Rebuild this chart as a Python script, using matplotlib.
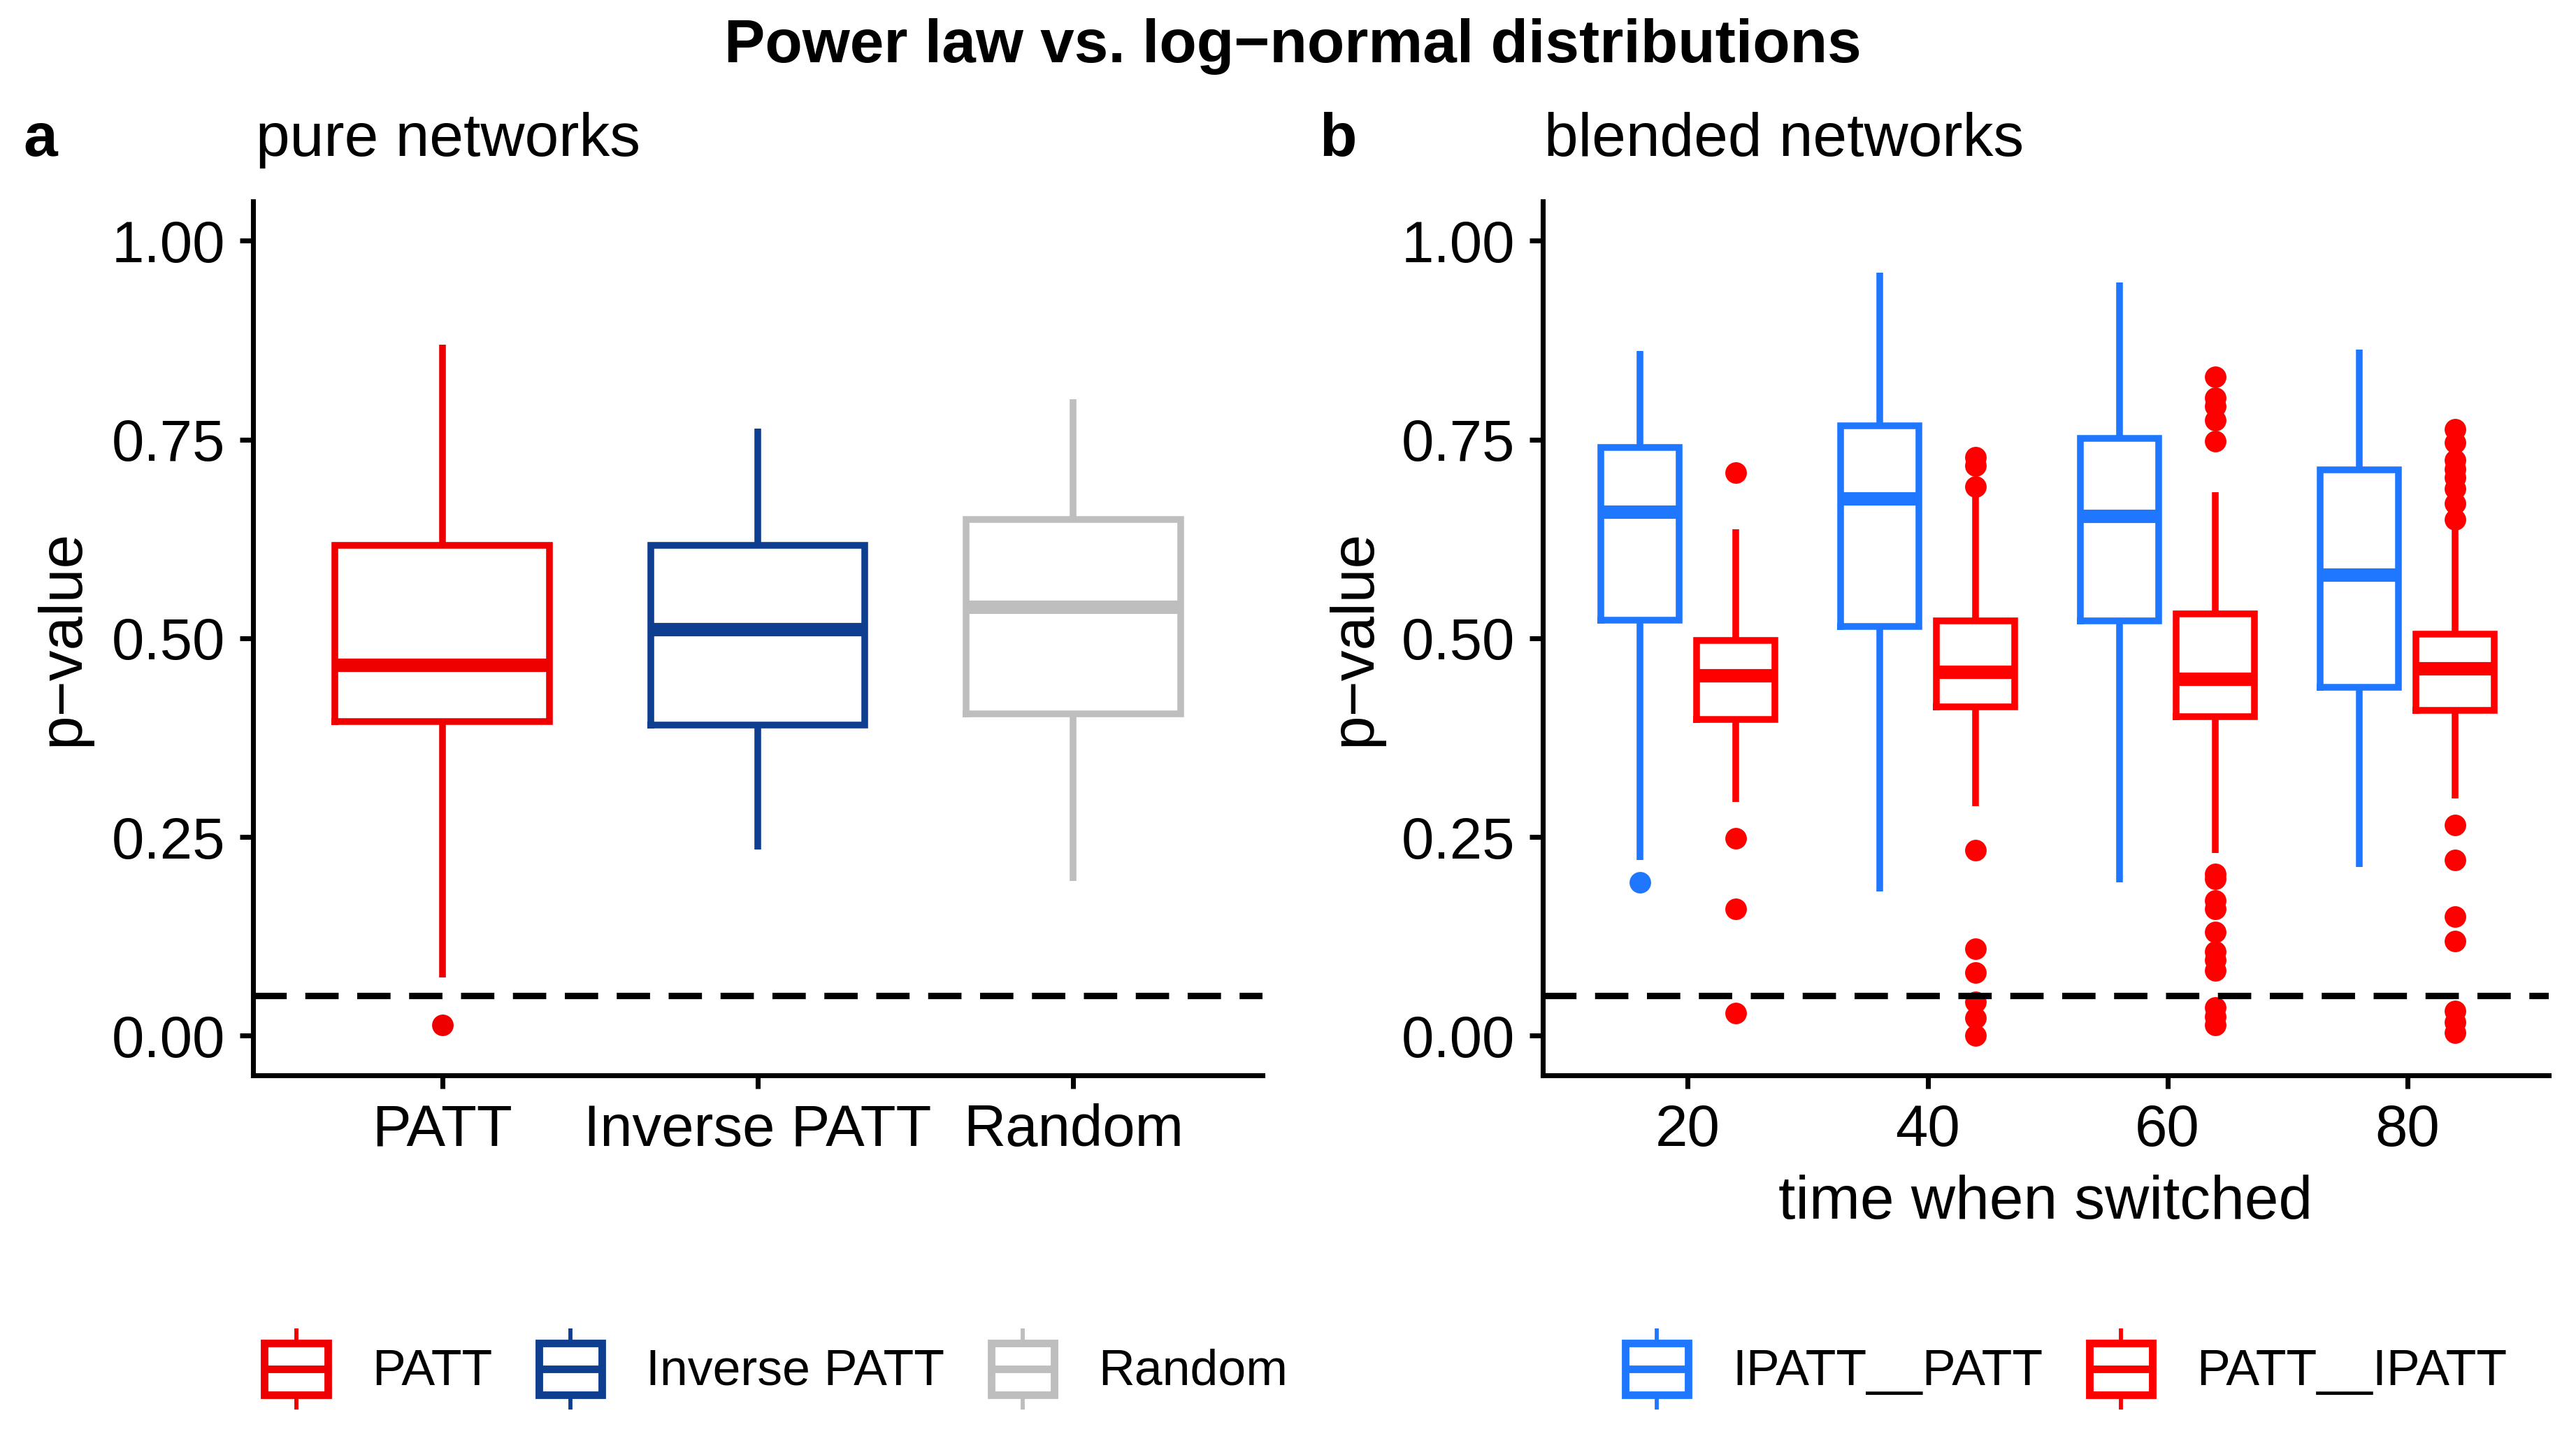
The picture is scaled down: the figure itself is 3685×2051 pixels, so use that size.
import matplotlib
matplotlib.use("Agg")
import matplotlib.pyplot as plt
from matplotlib.patches import Rectangle
from matplotlib.lines import Line2D
from matplotlib.legend_handler import HandlerBase

plt.rcParams['font.family'] = ['Liberation Sans', 'DejaVu Sans']

# ---------------- data: panel a (pure networks) ----------------
pure_groups = ["PATT", "Inverse PATT", "Random"]
pure_whislo = [0.073, 0.234, 0.195]
pure_q1 = [0.395, 0.391, 0.405]
pure_med = [0.466, 0.511, 0.539]
pure_q3 = [0.617, 0.617, 0.649]
pure_whishi = [0.869, 0.764, 0.801]
pure_fliers = [[0.013], [], []]
pure_colors = ["#EE0000", "#0E3E8F", "#BEBEBE"]

# ---------------- data: panel b (blended networks) ----------------
switch_times = [20, 40, 60, 80]
blend_groups = ["IPATT__PATT", "PATT__IPATT"]
blend_colors = ["#1F77FF", "#FF0000"]

ipatt_whislo = [0.221, 0.181, 0.193, 0.212]
ipatt_q1 = [0.523, 0.515, 0.522, 0.438]
ipatt_med = [0.659, 0.676, 0.654, 0.580]
ipatt_q3 = [0.740, 0.767, 0.751, 0.712]
ipatt_whishi = [0.861, 0.960, 0.948, 0.863]
ipatt_fliers = [[0.193], [], [], []]

patt_whislo = [0.294, 0.289, 0.230, 0.298]
patt_q1 = [0.398, 0.414, 0.401, 0.409]
patt_med = [0.453, 0.458, 0.449, 0.462]
patt_q3 = [0.497, 0.522, 0.531, 0.505]
patt_whishi = [0.637, 0.680, 0.684, 0.637]
patt_fliers = [
    [0.708, 0.248, 0.159, 0.028],
    [0.728, 0.717, 0.691, 0.233, 0.109, 0.079, 0.042, 0.022, 0.000],
    [0.829, 0.802, 0.792, 0.774, 0.748, 0.203, 0.197, 0.170, 0.159,
     0.130, 0.106, 0.095, 0.082, 0.035, 0.024, 0.013],
    [0.763, 0.746, 0.724, 0.713, 0.702, 0.688, 0.670, 0.649,
     0.265, 0.221, 0.150, 0.119, 0.031, 0.017, 0.004],
]

threshold = 0.05
yticks = [0.00, 0.25, 0.50, 0.75, 1.00]
ytick_labels = ["0.00", "0.25", "0.50", "0.75", "1.00"]

BOX_LW = 2.3
MED_LW = 4.6
TICK_FS = 20
TITLE_FS = 21


def draw_box(ax, pos, width, whislo, q1, med, q3, whishi, fliers, color):
    stats = [dict(whislo=whislo, q1=q1, med=med, q3=q3, whishi=whishi,
                  fliers=fliers)]
    ax.bxp(stats, positions=[pos], widths=[width], showcaps=False,
           manage_ticks=False,
           boxprops=dict(color=color, lw=BOX_LW, solid_joinstyle='miter'),
           whiskerprops=dict(color=color, lw=BOX_LW, solid_capstyle='butt'),
           medianprops=dict(color=color, lw=MED_LW, solid_capstyle='butt'),
           flierprops=dict(marker='o', markerfacecolor=color,
                           markeredgecolor=color, markeredgewidth=0,
                           markersize=7.4, linestyle='none'))


def style_axes(ax):
    for s in ["top", "right"]:
        ax.spines[s].set_visible(False)
    for s in ["left", "bottom"]:
        ax.spines[s].set_linewidth(1.7)
        ax.spines[s].set_color("black")
    ax.tick_params(axis='both', direction='out', length=4.6, width=1.7,
                   color='black', labelsize=TICK_FS, labelcolor='black', pad=5)
    ax.set_ylim(-0.05, 1.05)
    ax.set_yticks(yticks)
    ax.set_yticklabels(ytick_labels)
    dl = ax.axhline(threshold, color='black', lw=2.2, zorder=5)
    dl.set_dashes([5.2, 2.9])


W, H = 3685, 2051
fig = plt.figure(figsize=(W / 300, H / 300), dpi=300)

axa = fig.add_axes([0.0982, 0.2501, 0.3919, 0.6097])
axb = fig.add_axes([0.5989, 0.2501, 0.3905, 0.6097])

# panel a
pure_pos = list(range(1, len(pure_groups) + 1))
for i, g in enumerate(pure_groups):
    draw_box(axa, pure_pos[i], 0.68, pure_whislo[i], pure_q1[i], pure_med[i],
             pure_q3[i], pure_whishi[i], pure_fliers[i], pure_colors[i])
axa.set_xlim(0.4, 3.6)
axa.set_xticks(pure_pos)
axa.set_xticklabels(pure_groups)
style_axes(axa)

# panel b
dodge = 4.0
for j, t in enumerate(switch_times):
    draw_box(axb, t - dodge, 6.5, ipatt_whislo[j], ipatt_q1[j], ipatt_med[j],
             ipatt_q3[j], ipatt_whishi[j], ipatt_fliers[j], blend_colors[0])
    draw_box(axb, t + dodge, 6.5, patt_whislo[j], patt_q1[j], patt_med[j],
             patt_q3[j], patt_whishi[j], patt_fliers[j], blend_colors[1])
axb.set_xlim(7.9, 91.8)
axb.set_xticks(switch_times)
axb.set_xticklabels([str(t) for t in switch_times])
style_axes(axb)

# texts
fig.text(0.5018, 1 - 89 / H, "Power law vs. log\u2212normal distributions",
         ha='center', va='baseline', fontsize=TITLE_FS, fontweight='bold')
fig.text(0.009, 1 - 223 / H, "a", ha='left', va='baseline',
         fontsize=TITLE_FS, fontweight='bold')
fig.text(0.0993, 1 - 223 / H, "pure networks", ha='left', va='baseline',
         fontsize=TITLE_FS)
fig.text(0.5121, 1 - 223 / H, "b", ha='left', va='baseline',
         fontsize=TITLE_FS, fontweight='bold')
fig.text(0.5995, 1 - 223 / H, "blended networks", ha='left', va='baseline',
         fontsize=TITLE_FS)
fig.text(0.0243, 0.555, "p\u2212value", rotation=90, ha='center', va='center',
         fontsize=TITLE_FS)
fig.text(0.5259, 0.555, "p\u2212value", rotation=90, ha='center', va='center',
         fontsize=TITLE_FS)
fig.text(0.7941, 1 - 1743 / H, "time when switched", ha='center',
         va='baseline', fontsize=TITLE_FS)


# legends
class BoxKey:
    def __init__(self, color):
        self.color = color


class BoxKeyHandler(HandlerBase):
    def create_artists(self, legend, orig_handle, xdescent, ydescent,
                       width, height, fontsize, trans):
        c = orig_handle.color
        x0, y0 = -xdescent, -ydescent
        bh = height * 0.64
        by = y0 + (height - bh) / 2
        wl = Line2D([x0 + width / 2] * 2, [y0, by], color=c, lw=1.4,
                    transform=trans, solid_capstyle='butt')
        wh = Line2D([x0 + width / 2] * 2, [by + bh, y0 + height], color=c,
                    lw=1.4, transform=trans, solid_capstyle='butt')
        rect = Rectangle((x0, by), width, bh, facecolor='white',
                         edgecolor=c, lw=2.6, transform=trans,
                         joinstyle='miter')
        med = Line2D([x0, x0 + width], [by + bh / 2] * 2, color=c, lw=2.6,
                     transform=trans, solid_capstyle='butt')
        return [wl, wh, rect, med]


leg_kw = dict(loc='center', frameon=False, fontsize=17.2,
              handlelength=1.26, handleheight=2.13, handletextpad=0.88,
              columnspacing=0.93, borderpad=0, borderaxespad=0,
              handler_map={BoxKey: BoxKeyHandler()},
              bbox_transform=fig.transFigure)

lega = fig.legend([BoxKey(c) for c in pure_colors], pure_groups,
                  ncol=3, bbox_to_anchor=(0.3013, 0.0453), **leg_kw)
legb = fig.legend([BoxKey(c) for c in blend_colors], blend_groups,
                  ncol=2, bbox_to_anchor=(0.802, 0.0453), **leg_kw)

fig.savefig("out.png", dpi=300)
